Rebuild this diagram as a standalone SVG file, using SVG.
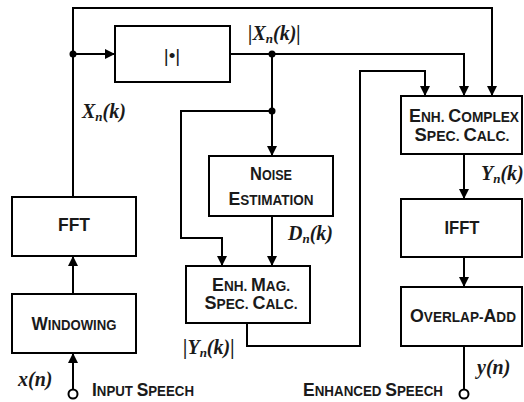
<svg xmlns="http://www.w3.org/2000/svg" width="524" height="402" viewBox="0 0 524 402">
<defs>
<marker id="ah" viewBox="0 0 10 10" refX="10" refY="5" markerWidth="10" markerHeight="10" markerUnits="userSpaceOnUse" orient="auto">
<path d="M0,0 L10,5 L0,10 Z" fill="#000"/>
</marker>
<style>
.box{fill:#fff;stroke:#000;stroke-width:2}
.ln{fill:none;stroke:#000;stroke-width:2}
.ar{fill:none;stroke:#000;stroke-width:2;marker-end:url(#ah)}
.dot{fill:#000}
.term{fill:#fff;stroke:#000;stroke-width:2}
.lb{font-family:"Liberation Sans",Arial,sans-serif;font-weight:bold;font-size:19px;fill:#1a1a1a;text-anchor:middle}
.st{text-anchor:start}
.s{font-size:14.5px}
.m{font-family:"Liberation Serif","Times New Roman",serif;font-weight:bold;font-style:italic;font-size:20px;fill:#1a1a1a}
.sub{font-size:13px}
</style>
</defs>
<g id="connectors">
<polyline class="ar" points="73,197 73,8 492,8 492,96"/>
<line class="ar" x1="73" y1="54" x2="115" y2="54"/>
<polyline class="ar" points="230,54 464,54 464,96"/>
<line class="ar" x1="272" y1="54" x2="272" y2="156"/>
<polyline class="ar" points="272,111 181,111 181,238 222,238 222,266"/>
<line class="ar" x1="272" y1="216" x2="272" y2="266"/>
<polyline class="ar" points="247,323 247,346 360,346 360,71 425,71 425,96"/>
<line class="ar" x1="464" y1="154" x2="464" y2="199"/>
<line class="ar" x1="464" y1="257" x2="464" y2="287"/>
<line class="ln" x1="464" y1="346" x2="464" y2="390"/>
<line class="ar" x1="73" y1="294" x2="73" y2="256"/>
<line class="ar" x1="73" y1="390" x2="73" y2="353"/>
<circle class="dot" cx="73" cy="54" r="3.5"/>
<circle class="dot" cx="272" cy="54" r="3.5"/>
<circle class="dot" cx="272" cy="111" r="3.5"/>
<circle class="term" cx="73" cy="394" r="4.5"/>
<circle class="term" cx="464" cy="394" r="4.5"/>
</g>
<g id="abs">
<rect class="box" x="115" y="26" width="115" height="56"/>
<text x="172" y="62" font-family="Liberation Sans,Arial,sans-serif" font-size="19" text-anchor="middle" fill="#1a1a1a">|•|</text>
</g>
<g id="fft">
<rect class="box" x="12" y="197" width="124" height="59"/>
<text class="lb" x="74" y="231" textLength="32" lengthAdjust="spacingAndGlyphs">FFT</text>
</g>
<g id="windowing">
<rect class="box" x="12" y="294" width="124" height="59"/>
<text class="lb" x="74" y="330" textLength="85" lengthAdjust="spacingAndGlyphs">W<tspan class="s">INDOWING</tspan></text>
</g>
<g id="noise">
<rect class="box" x="209" y="156" width="124" height="60"/>
<text class="lb" x="271" y="180" textLength="42" lengthAdjust="spacingAndGlyphs">N<tspan class="s">OISE</tspan></text>
<text class="lb" x="271" y="205" textLength="85" lengthAdjust="spacingAndGlyphs">E<tspan class="s">STIMATION</tspan></text>
</g>
<g id="enhmag">
<rect class="box" x="186" y="266" width="124" height="57"/>
<text class="lb" x="251" y="291" textLength="78" lengthAdjust="spacingAndGlyphs">E<tspan class="s">NH. </tspan>M<tspan class="s">AG.</tspan></text>
<text class="lb" x="251" y="309" textLength="93" lengthAdjust="spacingAndGlyphs">S<tspan class="s">PEC. </tspan>C<tspan class="s">ALC.</tspan></text>
</g>
<g id="enhcomplex">
<rect class="box" x="401" y="96" width="121" height="58"/>
<text class="lb" x="464" y="122" textLength="110" lengthAdjust="spacingAndGlyphs">E<tspan class="s">NH. </tspan>C<tspan class="s">OMPLEX</tspan></text>
<text class="lb" x="462" y="141" textLength="95" lengthAdjust="spacingAndGlyphs">S<tspan class="s">PEC. </tspan>C<tspan class="s">ALC.</tspan></text>
</g>
<g id="ifft">
<rect class="box" x="401" y="199" width="121" height="58"/>
<text class="lb" x="462" y="234" textLength="35" lengthAdjust="spacingAndGlyphs">IFFT</text>
</g>
<g id="ola">
<rect class="box" x="401" y="287" width="121" height="59"/>
<text class="lb" x="463" y="322" textLength="106" lengthAdjust="spacingAndGlyphs">O<tspan class="s">VERLAP-</tspan>A<tspan class="s">DD</tspan></text>
</g>
<g id="labels">
<text class="m" x="82" y="118">X<tspan class="sub" dy="3">n</tspan><tspan dy="-3">(k)</tspan></text>
<text class="m" x="248" y="40">|X<tspan class="sub" dy="3">n</tspan><tspan dy="-3">(k)|</tspan></text>
<text class="m" x="288" y="240">D<tspan class="sub" dy="3">n</tspan><tspan dy="-3">(k)</tspan></text>
<text class="m" x="481" y="180">Y<tspan class="sub" dy="3">n</tspan><tspan dy="-3">(k)</tspan></text>
<text class="m" x="183" y="354">|Y<tspan class="sub" dy="3">n</tspan><tspan dy="-3">(k)|</tspan></text>
<text class="m" x="18" y="386">x(n)</text>
<text class="m" x="477" y="374">y(n)</text>
<text class="lb st" x="92" y="396" textLength="102" lengthAdjust="spacingAndGlyphs">I<tspan class="s">NPUT </tspan>S<tspan class="s">PEECH</tspan></text>
<text class="lb st" x="303" y="396" textLength="140" lengthAdjust="spacingAndGlyphs">E<tspan class="s">NHANCED </tspan>S<tspan class="s">PEECH</tspan></text>
</g>
</svg>
